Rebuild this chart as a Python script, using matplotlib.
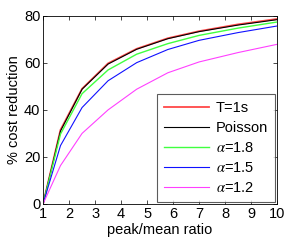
import matplotlib
matplotlib.use("Agg")
import matplotlib.pyplot as plt

plt.rcParams['font.family'] = ['Liberation Sans', 'DejaVu Sans']
plt.rcParams['mathtext.fontset'] = 'stix'

ratio = [1, 1.67, 2.5, 3.5, 4.6, 5.8, 7.0, 8.5, 10]
t1s = [0, 31.5, 49.0, 59.8, 66.0, 70.5, 73.5, 76.4, 78.7]
poisson = [0, 31.0, 48.8, 59.5, 65.8, 70.3, 73.3, 76.1, 78.4]
a18 = [0, 29.7, 46.9, 57.0, 63.7, 68.2, 71.7, 74.8, 77.4]
a15 = [0, 24.8, 41.0, 52.4, 60.1, 65.7, 69.6, 72.9, 75.7]
a12 = [0, 16.3, 30.0, 40.0, 48.8, 55.8, 60.4, 64.4, 67.9]

fs = 10.5

fig = plt.figure(figsize=(2.91, 2.41), dpi=100)
ax = fig.add_axes([0.148, 0.154, 0.804, 0.780])

ax.plot(ratio, t1s, color='#ff4848', lw=1.3, label='T=1s')
ax.plot(ratio, poisson, color='k', lw=0.8, label='Poisson')
ax.plot(ratio, a18, color='#40ff40', lw=1.0, label=r'$\alpha$=1.8')
ax.plot(ratio, a15, color='#1010ff', lw=0.8, label=r'$\alpha$=1.5')
ax.plot(ratio, a12, color='#ff40ff', lw=0.8, label=r'$\alpha$=1.2')

ax.set_xlim(1, 10)
ax.set_ylim(0, 80)
ax.set_xticks(range(1, 11))
ax.set_yticks([0, 20, 40, 60, 80])
ax.tick_params(direction='in', top=True, right=True, labelsize=fs, length=3, width=0.5, pad=2)
for s in ax.spines.values():
    s.set_linewidth(0.6)
ax.set_xlabel('peak/mean ratio', fontsize=fs, labelpad=2)
ax.set_ylabel('% cost reduction', fontsize=fs, labelpad=2)

leg = ax.legend(loc='lower right', fontsize=fs, fancybox=False, edgecolor='#333333',
                handlelength=3.1, labelspacing=0.42, borderaxespad=0.15,
                handletextpad=0.5, borderpad=0.45)
leg.get_frame().set_linewidth(0.8)

fig.savefig('out.png', dpi=100)
